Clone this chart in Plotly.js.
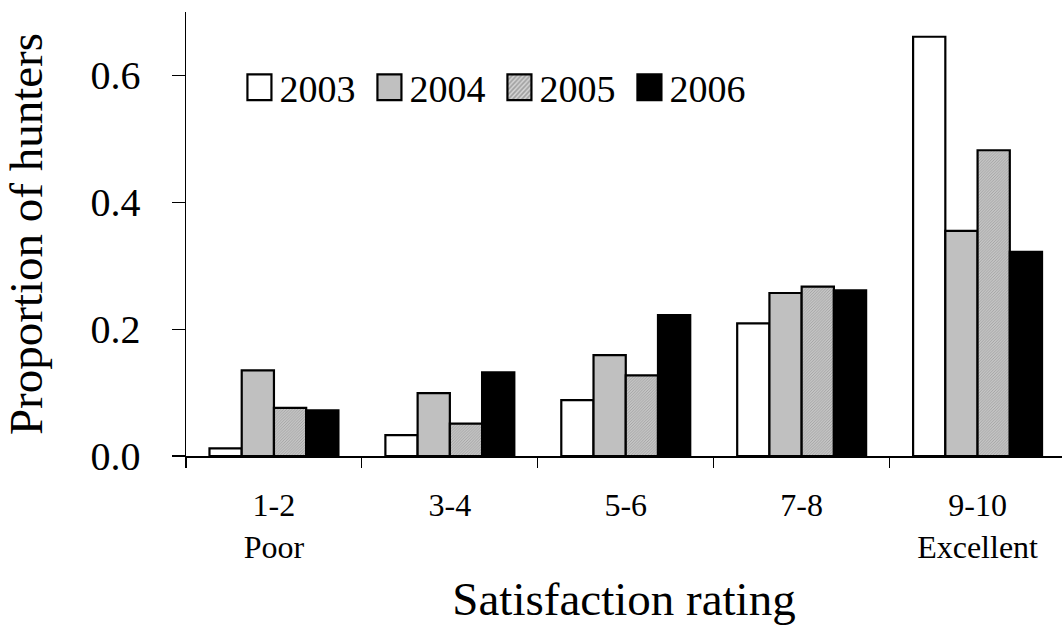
<!DOCTYPE html>
<html>
<head>
<meta charset="utf-8">
<script src="https://cdn.plot.ly/plotly-3.0.1.min.js"></script>
<style>html,body{margin:0;padding:0;background:#fff;}#chart{width:1062px;height:631px;}</style>
</head>
<body>
<div id="chart"></div>
<script>
// ---- data ----
const categories = ["1-2", "3-4", "5-6", "7-8", "9-10"];
const descriptors = ["Poor", "", "", "", "Excellent"];
const years = ["2003", "2004", "2005", "2006"];
const v2003 = [0.012, 0.033, 0.088, 0.209, 0.661];
const v2004 = [0.135, 0.099, 0.159, 0.257, 0.355];
const v2005 = [0.076, 0.051, 0.127, 0.267, 0.482];
const v2006 = [0.072, 0.132, 0.222, 0.261, 0.322];
const yTicks = [0, 0.2, 0.4, 0.6];
const yTickText = ["0.0", "0.2", "0.4", "0.6"];

const seriesValues = [v2003, v2004, v2005, v2006];
const fills = ["#ffffff", "#c0c0c0", "#d2d2d2", "#000000"];
const tickLabels = categories.map((c, i) => descriptors[i] ? c + "<br>" + descriptors[i] : c);

const FONT = "'Liberation Serif'";

const traces = years.map((yr, i) => {
  const marker = {color: fills[i], line: {color: "#000", width: 2.2}};
  if (i === 2) {
    marker.pattern = {shape: "/", fgcolor: "#a0a0a0", bgcolor: "#d4d4d4", size: 2, solidity: 0.5};
  }
  return {type: "bar", name: yr, x: categories, y: seriesValues[i], marker: marker};
});

const layout = {
  width: 1062, height: 631,
  margin: {l: 185.5, r: 0, t: 12, b: 174.5},
  paper_bgcolor: "#fff", plot_bgcolor: "#fff",
  font: {family: FONT, color: "#000"},
  barmode: "group", bargap: 0.267, bargroupgap: 0,
  showlegend: true,
  legend: {orientation: "h", x: 0.061, xanchor: "left", y: 0.83, yanchor: "middle",
           entrywidth: 85, entrywidthmode: "pixels",
           font: {family: FONT, size: 38, color: "#000"}, bgcolor: "rgba(0,0,0,0)"},
  xaxis: {type: "category", range: [-0.5, 4.48], showline: true, linecolor: "#000", linewidth: 1.5,
          ticks: "outside", ticklen: 10, tickwidth: 1.2, tickcolor: "#000", tickson: "boundaries",
          tickmode: "array", tickvals: categories, ticktext: tickLabels, ticklabelstandoff: 20,
          tickfont: {family: FONT, size: 32, color: "#000"}, showgrid: false, zeroline: false,
          title: {text: "Satisfaction rating", font: {family: FONT, size: 47, color: "#000"}, standoff: 18}},
  yaxis: {range: [0, 0.7], showline: true, linecolor: "#000", linewidth: 1.5,
          ticks: "outside", ticklen: 13, tickwidth: 1.2, tickcolor: "#000",
          tickmode: "array", tickvals: yTicks, ticktext: yTickText, ticklabelstandoff: 23,
          tickfont: {family: FONT, size: 40, color: "#000"}, showgrid: false, zeroline: false,
          title: {text: "Proportion of hunters", font: {family: FONT, size: 47, color: "#000"}, standoff: 33}}
};

Plotly.newPlot("chart", traces, layout, {displayModeBar: false, staticPlot: true}).then(gd => {
  // enlarge legend swatches to match the reference's square boxes
  gd.querySelectorAll(".legend .legendpoints path").forEach(p => {
    p.style.vectorEffect = "non-scaling-stroke";
    const t = p.getAttribute("transform") || "";
    p.setAttribute("transform", t + " scale(2,2.15)");
  });
});
</script>
</body>
</html>
